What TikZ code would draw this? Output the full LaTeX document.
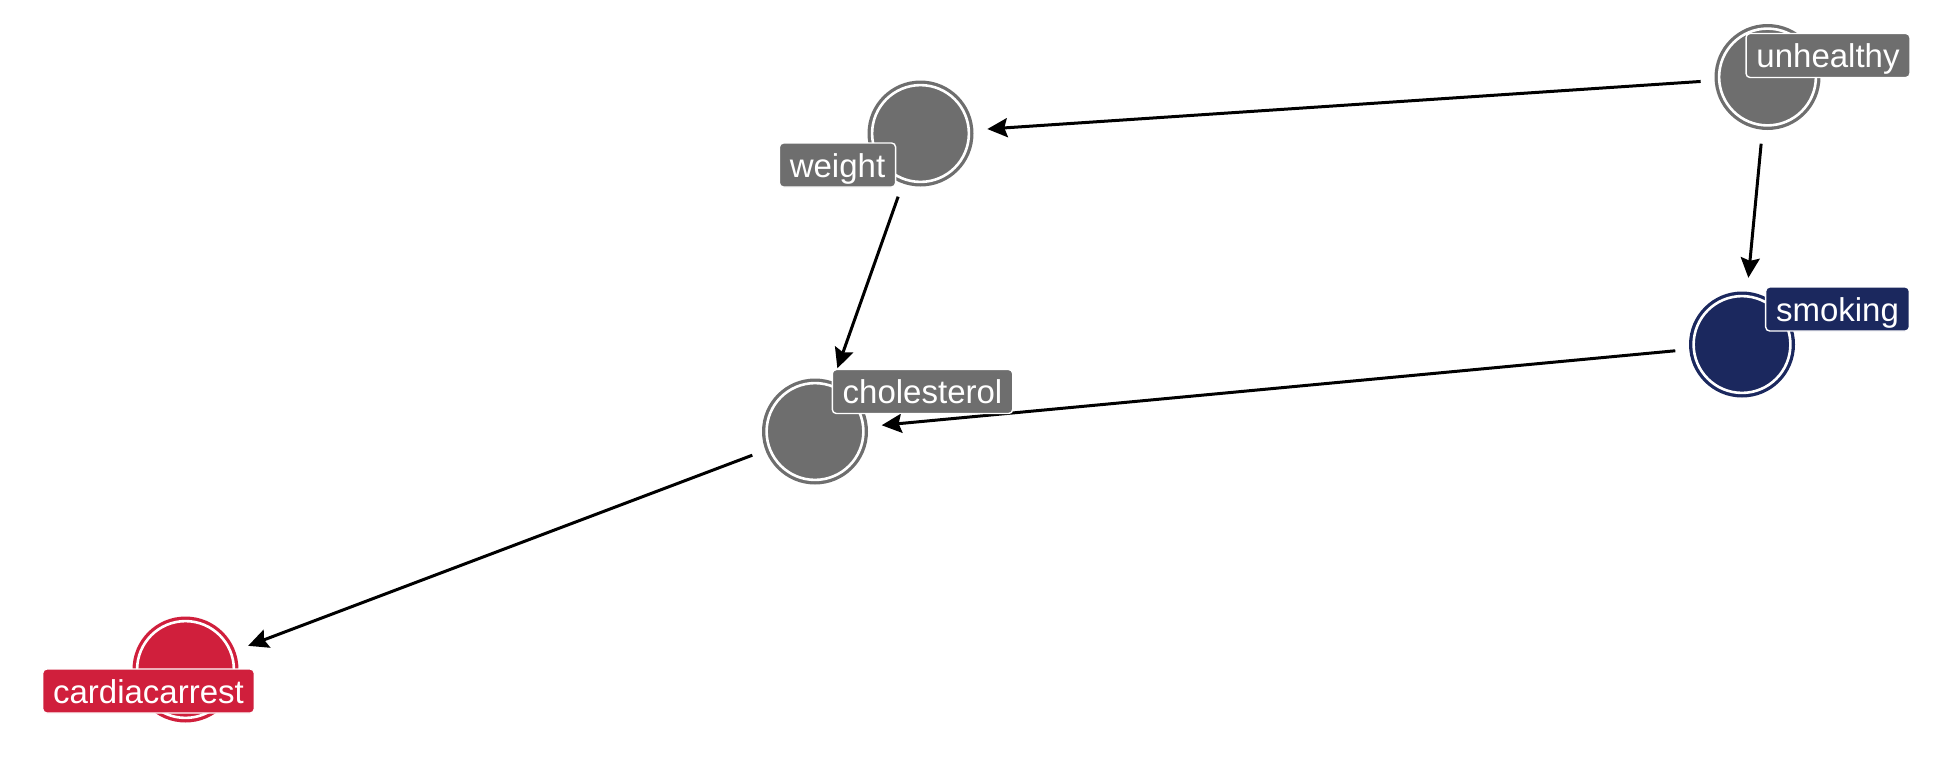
\documentclass[tikz,border=0pt]{standalone}
\usepackage{fontspec}
\setmainfont{Liberation Sans}
\usetikzlibrary{arrows.meta}
\definecolor{nodegray}{RGB}{110,110,110}
\definecolor{nodenavy}{RGB}{27,40,94}
\definecolor{nodered}{RGB}{208,31,60}
\tikzset{
  varnode/.style={circle, fill=#1, minimum size=53pt, inner sep=0pt, outer sep=7pt,
    path picture={\draw[white, line width=1.3pt] (path picture bounding box.center) circle (24.2pt);}},
  varlabel/.style={fill=#1, draw=white, line width=0.7pt, rounded corners=2pt, text=white,
    font=\fontsize{16.5pt}{18pt}\selectfont, inner xsep=5.2pt, inner ysep=0pt,
    text height=17pt, text depth=5pt},
  edge/.style={line width=1.5pt, -{Stealth[length=10pt, width=9.5pt, inset=1.5pt]}}
}
\begin{document}
\begin{tikzpicture}[x=0.5pt, y=-0.5pt]
\useasboundingbox (0,0) rectangle (1944,756);
% nodes
\node[varnode=nodegray] (unhealthy) at (1767.5,77) {};
\node[varnode=nodegray] (weight) at (920.5,133.5) {};
\node[varnode=nodenavy] (smoking) at (1742,344.5) {};
\node[varnode=nodegray] (cholesterol) at (815,431.5) {};
\node[varnode=nodered] (cardiac) at (185.5,669.5) {};
% edges
\draw[edge] (unhealthy) -- (weight);
\draw[edge] (unhealthy) -- (smoking);
\draw[edge] (weight) -- (cholesterol);
\draw[edge] (smoking) -- (cholesterol);
\draw[edge] (cholesterol) -- (cardiac);
% labels
\node[varlabel=nodegray] (lunhealthy) at (1828,55.5) {unhealthy};
\node[varlabel=nodenavy] (lsmoking) at (1837.5,309) {smoking};
\node[varlabel=nodegray] (lweight) at (837.5,165) {weight};
\node[varlabel=nodegray] (lcholesterol) at (922.5,391.5) {cholesterol};
\node[varlabel=nodered] (lcardiac) at (148.5,691) {cardiacarrest};
\end{tikzpicture}
\end{document}
